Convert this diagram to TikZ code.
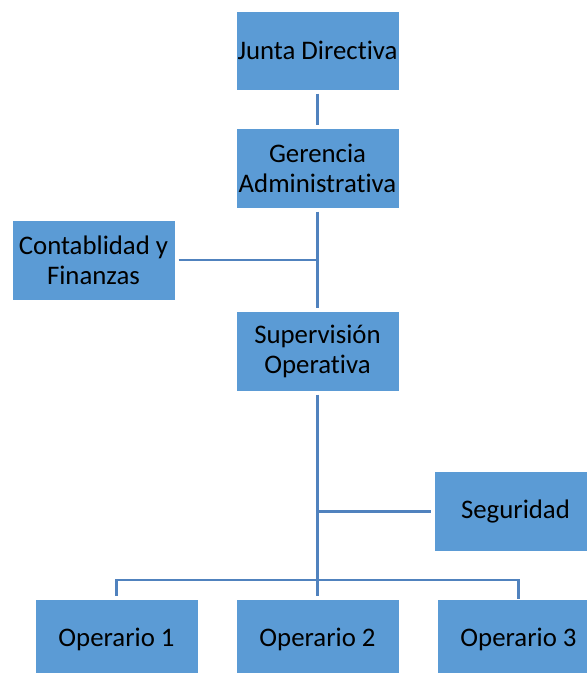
\documentclass[tikz,border=0pt]{standalone}
\usepackage{fontspec}
\setmainfont[Ligatures=NoCommon]{Carlito}
\definecolor{boxfill}{RGB}{91,155,213}
\definecolor{linecol}{RGB}{80,130,190}
\begin{document}
\begin{tikzpicture}[x=1pt,y=-1pt,
  orgbox/.style={rectangle,fill=boxfill,draw=white,line width=1pt,minimum width=163pt,minimum height=80pt,inner sep=0pt,align=center,font=\fontsize{26.8}{30}\selectfont,text=black},
  conn/.style={draw=linecol,line width=2.4pt}]
\clip (0,0) rectangle (587,673);
\node[orgbox,minimum height=79pt] (junta) at (317.5,50.5) {Junta Directiva};
\node[orgbox] (ger) at (317.5,168) {Gerencia\\Administrativa};
\node[orgbox] (cont) at (93.5,260) {Contablidad y\\Finanzas};
\node[orgbox] (sup) at (317.5,351) {Supervisión\\Operativa};
\node[orgbox] (seg) at (515.5,511.5) {Seguridad};
\node[orgbox] (op1) at (116.5,639) {Operario 1};
\node[orgbox] (op2) at (317.5,639) {Operario 2};
\node[orgbox] (op3) at (518.5,639) {Operario 3};
\coordinate (jc) at (317.5,260);
\coordinate (sc) at (317.5,511.5);
\coordinate (bus) at (317.5,580);
\coordinate (b1) at (116.5,580);
\coordinate (b3) at (518.5,580);
\draw[conn,shorten <=3pt,shorten >=3pt] (junta.south) -- (ger.north);
\draw[conn,shorten <=3pt,shorten >=3pt] (ger.south) -- (sup.north);
\draw[conn,shorten <=3pt] (cont.east) -- (jc);
\draw[conn,shorten <=3pt,shorten >=3pt] (sup.south) -- (op2.north);
\draw[conn,shorten <=3pt] (seg.west) -- (sc);
\draw[conn,shorten <=3pt] (op1.north) -- (b1) -- (b3) -- (op3.north);
\end{tikzpicture}
\end{document}
